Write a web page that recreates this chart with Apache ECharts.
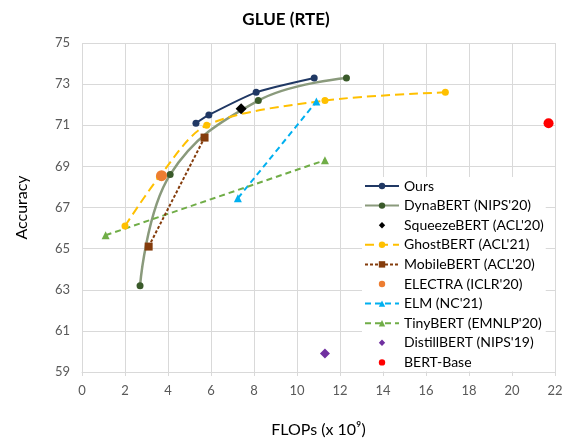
<!DOCTYPE html>
<html><head><meta charset="utf-8">
<script src="https://cdn.jsdelivr.net/npm/echarts@6/dist/echarts.min.js"></script>
<style>html,body{margin:0;padding:0;background:#fff}#c{width:572px;height:445px}</style>
</head><body><div id="c"></div>
<script>
const title = 'GLUE (RTE)';
const xTitle = 'FLOPs (x 10⁹)';
const yTitle = 'Accuracy';
const xTicks = [0, 22, 2];
const yTicks = [59, 75, 2];
const ours = [[5.3,71.1],[5.9,71.5],[8.1,72.6],[10.8,73.3]];
const dynabert = [[2.7,63.2],[4.1,68.6],[8.2,72.2],[12.3,73.3]];
const squeezebert = [[7.4,71.8]];
const ghostbert = [[2.0,66.1],[3.6,68.5],[5.8,71.0],[11.3,72.2],[16.9,72.6]];
const mobilebert = [[3.1,65.1],[5.7,70.4]];
const electra = [[3.7,68.55]];
const elm = [[7.25,67.45],[10.9,72.15]];
const tinybert = [[1.1,65.65],[11.3,69.3]];
const distillbert = [[11.3,59.9]];
const bertbase = [[21.7,71.1]];

const chart = echarts.init(document.getElementById('c'));
const font = 'Lato, "Open Sans", sans-serif';
const pointOnly = {opacity: 0, width: 0};
chart.setOption({
  animation: false,
  textStyle: {fontFamily: font},
  title: {text: title, left: 'center', top: 6, textStyle: {fontFamily: font, fontSize: 17, fontWeight: 'bold', color: '#000'}},
  grid: {left: 82, right: 17, top: 43, bottom: 73},
  xAxis: {type: 'value', min: xTicks[0], max: xTicks[1], interval: xTicks[2],
    name: xTitle, nameLocation: 'middle', nameGap: 50, nameTextStyle: {fontSize: 16, color: '#000', fontFamily: font},
    axisLine: {show: true, lineStyle: {color: '#d9d9d9'}}, axisTick: {show: true, length: 4, lineStyle: {color: '#d9d9d9'}},
    axisLabel: {fontSize: 13, color: '#595959', margin: 12, fontFamily: font,
      formatter: function (v) { return v === xTicks[1] ? '' : String(v); }},
    splitLine: {show: true, lineStyle: {color: '#d9d9d9'}}},
  yAxis: {type: 'value', min: yTicks[0], max: yTicks[1], interval: yTicks[2],
    name: yTitle, nameLocation: 'middle', nameGap: 52, nameTextStyle: {fontSize: 16, color: '#000', fontFamily: font},
    axisLine: {show: false}, axisTick: {show: false},
    axisLabel: {fontSize: 13, color: '#595959', margin: 12, fontFamily: font},
    splitLine: {show: true, lineStyle: {color: '#d9d9d9'}}},
  legend: {orient: 'vertical', left: 362, top: 177, itemWidth: 34, itemHeight: 8, itemGap: 5.6,
    backgroundColor: '#fff', padding: [2, 2, 2, 2],
    textStyle: {fontSize: 14, color: '#000', fontFamily: font},
    data: ['Ours','DynaBERT (NIPS\'20)','SqueezeBERT (ACL\'20)','GhostBERT (ACL\'21)','MobileBERT (ACL\'20)','ELECTRA (ICLR\'20)','ELM (NC\'21)','TinyBERT (EMNLP\'20)','DistillBERT (NIPS\'19)','BERT-Base']},
  series: [
    {name: 'Ours', type: 'line', data: ours, smooth: 0.2, symbol: 'circle', symbolSize: 7,
      lineStyle: {color: '#203864', width: 2}, itemStyle: {color: '#203864'}, z: 10},
    {name: 'DynaBERT (NIPS\'20)', type: 'line', data: dynabert, smooth: 0.4, symbol: 'circle', symbolSize: 7,
      lineStyle: {color: '#8a9a7c', width: 2.5}, itemStyle: {color: '#3a5a2a'}, z: 5},
    {name: 'SqueezeBERT (ACL\'20)', type: 'line', data: squeezebert, symbol: 'diamond', symbolSize: 11,
      lineStyle: pointOnly, itemStyle: {color: '#000'}, z: 12},
    {name: 'GhostBERT (ACL\'21)', type: 'line', data: ghostbert, smooth: 0.3, symbol: 'circle', symbolSize: 7,
      lineStyle: {color: '#ffc000', width: 2, type: [9, 5]}, itemStyle: {color: '#ffc000'}, z: 6},
    {name: 'MobileBERT (ACL\'20)', type: 'line', data: mobilebert, symbol: 'rect', symbolSize: 8,
      lineStyle: {color: '#843c0c', width: 2, type: [3, 2]}, itemStyle: {color: '#843c0c'}, z: 7},
    {name: 'ELECTRA (ICLR\'20)', type: 'line', data: electra, symbol: 'circle', symbolSize: 11,
      lineStyle: pointOnly, itemStyle: {color: '#ed7d31'}, z: 11},
    {name: 'ELM (NC\'21)', type: 'line', data: elm, symbol: 'triangle', symbolSize: 8,
      lineStyle: {color: '#00b0f0', width: 2, type: [6, 4]}, itemStyle: {color: '#00b0f0'}, z: 6},
    {name: 'TinyBERT (EMNLP\'20)', type: 'line', data: tinybert, symbol: 'triangle', symbolSize: 8,
      lineStyle: {color: '#70ad47', width: 2, type: [6, 4]}, itemStyle: {color: '#70ad47'}, z: 6},
    {name: 'DistillBERT (NIPS\'19)', type: 'line', data: distillbert, symbol: 'diamond', symbolSize: 10,
      lineStyle: pointOnly, itemStyle: {color: '#7030a0'}},
    {name: 'BERT-Base', type: 'line', data: bertbase, symbol: 'circle', symbolSize: 10,
      lineStyle: pointOnly, itemStyle: {color: '#ff0000'}}
  ]
});

// Last x tick label, placed through the axis scale
const pMax = chart.convertToPixel({xAxisIndex: 0, yAxisIndex: 0}, [xTicks[1], yTicks[0]]);
chart.setOption({graphic: [{type: 'text', x: pMax[0], y: pMax[1] + 12, silent: true, z: 100,
  style: {text: String(xTicks[1]), fill: '#595959', font: '13px ' + font, align: 'center', verticalAlign: 'top'}}]});
</script></body></html>
